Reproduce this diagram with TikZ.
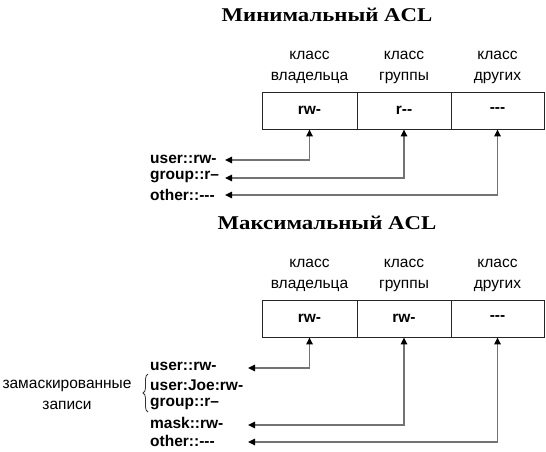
\documentclass[tikz,border=0pt]{standalone}
\usepackage{fontspec}
\setmainfont{Liberation Sans}[Ligatures=TeXOff]
\newfontfamily\titlefont{Liberation Serif}
\usetikzlibrary{arrows.meta,decorations.pathreplacing}
\begin{document}
\begin{tikzpicture}[x=1pt,y=-1pt,
  cell/.style={draw=black!85, line width=0.9pt, minimum height=37pt, inner sep=0pt,
    font=\fontsize{15.5}{18}\selectfont\bfseries},
  cls/.style={align=center, inner sep=0pt, font=\fontsize{15.5}{21}\selectfont},
  entry/.style={anchor=west, inner sep=0pt, font=\fontsize{15.5}{18}\selectfont\bfseries},
  ttl/.style={inner sep=0pt, font=\titlefont\fontsize{19.5}{22}\selectfont\bfseries},
  conn/.style={draw=black!55, line width=1.5pt,
    {Triangle[length=7pt,width=6.5pt,color=black]}-{Triangle[length=7pt,width=6.5pt,color=black]}},
  brc/.style={draw=black!80, line width=0.8pt, decorate, decoration={brace, amplitude=5pt}}
]
\useasboundingbox (0,0) rectangle (546,452);

% ---------- Minimal ACL ----------
\node[ttl] (t1) at (327,15) {\scalebox{1.17}[1]{Минимальный ACL}};
\node[cls] (l1a) at (309.5,67) {класс\\владельца};
\node[cls] (l1b) at (404,67) {класс\\группы};
\node[cls] (l1c) at (497.5,67) {класс\\других};
\node[cell, minimum width=95pt] (a1) at (309.5,110.5) {rw-};
\node[cell, minimum width=94pt] (a2) at (404,110.5) {r--};
\node[cell, minimum width=93pt] (a3) at (497.5,110.5) {---};

\node[entry] (e1) at (150,159) {user::rw-};
\node[entry] (e2) at (150,177) {group::r–};
\node[entry] (e3) at (150,195) {other::---};
\coordinate (p1) at (225,160);
\coordinate (p2) at (225,178);
\coordinate (p3) at (225,195);
\draw[conn] (p1) -| (a1.south);
\draw[conn] (p2) -| (a2.south);
\draw[conn] (p3) -| (a3.south);

% ---------- Maximal ACL ----------
\node[ttl] (t2) at (327,223) {\scalebox{1.17}[1]{Максимальный ACL}};
\node[cls] (l2a) at (309.5,275) {класс\\владельца};
\node[cls] (l2b) at (404,275) {класс\\группы};
\node[cls] (l2c) at (497.5,275) {класс\\других};
\node[cell, minimum width=95pt] (b1) at (309.5,318.5) {rw-};
\node[cell, minimum width=94pt] (b2) at (404,318.5) {rw-};
\node[cell, minimum width=93pt] (b3) at (497.5,318.5) {---};

\node[entry] (f1) at (150,366) {user::rw-};
\node[entry] (f2) at (150,385) {user:Joe:rw-};
\node[entry] (f3) at (150,404) {group::r–};
\node[entry] (f4) at (150,423) {mask::rw-};
\node[entry] (f5) at (150,441) {other::---};
\coordinate (q1) at (248,368);
\coordinate (q4) at (248,425);
\coordinate (q5) at (248,442);
\draw[conn] (q1) -| (b1.south);
\draw[conn] (q4) -| (b2.south);
\draw[conn] (q5) -| (b3.south);

\coordinate (br1) at (148,412);
\coordinate (br2) at (148,374);
\draw[brc] (br1) -- (br2);
\node[cls] (mk) at (67,395) {замаскированные\\записи};
\end{tikzpicture}
\end{document}
